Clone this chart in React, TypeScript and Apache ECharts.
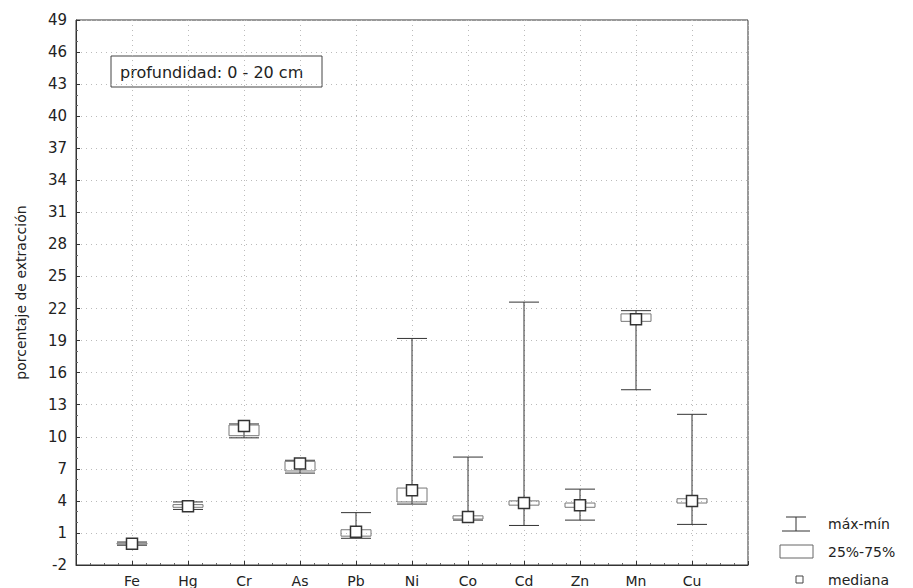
import React, { useEffect, useRef } from "react";
import * as echarts from "echarts";

const categories = ["Fe", "Hg", "Cr", "As", "Pb", "Ni", "Co", "Cd", "Zn", "Mn", "Cu"];
const minValues = [-0.15, 3.2, 9.9, 6.6, 0.5, 3.7, 2.2, 1.7, 2.2, 14.4, 1.8];
const q1Values = [-0.05, 3.4, 10.1, 6.8, 0.7, 3.9, 2.3, 3.6, 3.4, 20.8, 3.8];
const medianValues = [0.0, 3.5, 11.0, 7.5, 1.1, 5.0, 2.5, 3.8, 3.6, 21.0, 4.0];
const q3Values = [0.05, 3.65, 11.1, 7.7, 1.3, 5.2, 2.6, 4.0, 3.8, 21.5, 4.2];
const maxValues = [0.15, 3.9, 11.2, 7.8, 2.9, 19.2, 8.1, 22.6, 5.1, 21.8, 12.1];
const yTicks = { min: -2, max: 49, interval: 3 };

const INK = "#333";
const FONT = "DejaVu Sans";

export default function App() {
  const ref = useRef<HTMLDivElement>(null);
  useEffect(() => {
    if (!ref.current) return;
    const chart = echarts.init(ref.current, null, { renderer: "svg" });
    const data = categories.map((c, i) => [
      i + 1,
      minValues[i],
      q1Values[i],
      medianValues[i],
      q3Values[i],
      maxValues[i],
    ]);
    const capW = 30;
    const boxW = 30;
    const sq = 11;
    chart.setOption({
      animation: false,
      backgroundColor: "#fff",
      grid: {
        left: 76,
        right: 165,
        top: 20,
        bottom: 20,
        show: true,
        borderColor: INK,
        borderWidth: 1,
      },
      xAxis: {
        type: "value",
        min: 0,
        max: 12,
        interval: 1,
        axisLine: { show: true, onZero: false, lineStyle: { color: INK } },
        axisTick: { show: true, inside: true, length: 4, lineStyle: { color: INK } },
        minorTick: { show: true, splitNumber: 4, length: 2, lineStyle: { color: "#666" } },
        splitLine: { show: true, lineStyle: { color: "#bbb", type: [1, 4], width: 1 } },
        axisLabel: {
          color: "#222",
          fontFamily: FONT,
          fontSize: 14,
          margin: 9,
          formatter: (v: number) => (v >= 1 && v <= categories.length ? categories[v - 1] : ""),
        },
      },
      yAxis: {
        type: "value",
        min: yTicks.min,
        max: yTicks.max,
        interval: yTicks.interval,
        name: "porcentaje de extracción",
        nameLocation: "middle",
        nameGap: 48,
        nameTextStyle: { color: "#222", fontFamily: FONT, fontSize: 14 },
        axisLine: { show: true, onZero: false, lineStyle: { color: INK } },
        axisTick: { show: true, inside: true, length: 4, lineStyle: { color: INK } },
        minorTick: { show: true, splitNumber: 3, length: 2, lineStyle: { color: "#666" } },
        splitLine: { show: true, lineStyle: { color: "#bbb", type: [1, 4], width: 1 } },
        axisLabel: { color: "#222", fontFamily: FONT, fontSize: 15, margin: 9 },
      },
      series: [
        {
          type: "custom",
          data,
          renderItem: (params: any, api: any) => {
            const x = api.value(0);
            const pMin = api.coord([x, api.value(1)]);
            const pQ1 = api.coord([x, api.value(2)]);
            const pMed = api.coord([x, api.value(3)]);
            const pQ3 = api.coord([x, api.value(4)]);
            const pMax = api.coord([x, api.value(5)]);
            const cx = pMin[0];
            const ls = { stroke: INK, lineWidth: 1, fill: null };
            return {
              type: "group",
              children: [
                { type: "line", shape: { x1: cx, y1: pMin[1], x2: cx, y2: pMax[1] }, style: ls },
                { type: "line", shape: { x1: cx - capW / 2, y1: pMin[1], x2: cx + capW / 2, y2: pMin[1] }, style: ls },
                { type: "line", shape: { x1: cx - capW / 2, y1: pMax[1], x2: cx + capW / 2, y2: pMax[1] }, style: ls },
                {
                  type: "rect",
                  shape: { x: cx - boxW / 2, y: pQ3[1], width: boxW, height: pQ1[1] - pQ3[1] },
                  style: { stroke: "#777", lineWidth: 1, fill: "none" },
                },
                {
                  type: "rect",
                  shape: { x: cx - sq / 2, y: pMed[1] - sq / 2, width: sq, height: sq },
                  style: { stroke: INK, lineWidth: 1.5, fill: "#fff" },
                },
              ],
            };
          },
        },
      ],
      graphic: [
        {
          type: "rect",
          shape: { x: 111, y: 56, width: 211, height: 31 },
          style: { fill: "#fff", stroke: "#444", lineWidth: 1 },
        },
        {
          type: "text",
          x: 120,
          y: 72,
          style: { text: "profundidad: 0 - 20 cm", fill: "#222", font: `16px "${FONT}"`, verticalAlign: "middle" },
        },
        // legend: max-min
        { type: "line", shape: { x1: 786, y1: 517, x2: 806, y2: 517 }, style: { stroke: INK, lineWidth: 1 } },
        { type: "line", shape: { x1: 796, y1: 517, x2: 796, y2: 531 }, style: { stroke: INK, lineWidth: 1 } },
        { type: "line", shape: { x1: 782, y1: 531, x2: 810, y2: 531 }, style: { stroke: INK, lineWidth: 1 } },
        {
          type: "text",
          x: 828,
          y: 524,
          style: { text: "máx-mín", fill: "#222", font: `14px "${FONT}"`, verticalAlign: "middle" },
        },
        // legend: 25-75
        {
          type: "rect",
          shape: { x: 780, y: 545, width: 33, height: 13 },
          style: { fill: "none", stroke: "#666", lineWidth: 1 },
        },
        {
          type: "text",
          x: 828,
          y: 552,
          style: { text: "25%-75%", fill: "#222", font: `14px "${FONT}"`, verticalAlign: "middle" },
        },
        // legend: median
        {
          type: "rect",
          shape: { x: 796, y: 576, width: 7, height: 7 },
          style: { fill: "#fff", stroke: "#444", lineWidth: 1 },
        },
        {
          type: "text",
          x: 828,
          y: 580,
          style: { text: "mediana", fill: "#222", font: `14px "${FONT}"`, verticalAlign: "middle" },
        },
      ],
    });
    return () => chart.dispose();
  }, []);
  return <div ref={ref} style={{ width: 913, height: 588, position: "absolute", left: 0, top: 0 }} />;
}
